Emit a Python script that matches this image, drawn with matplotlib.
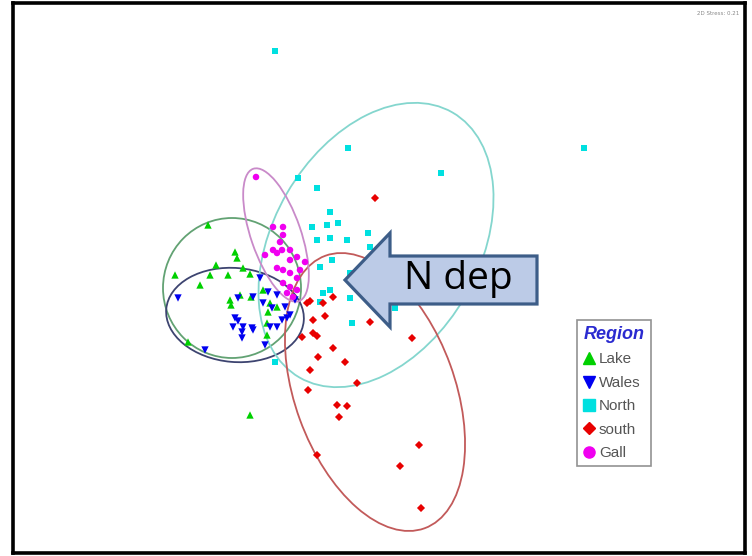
import matplotlib
matplotlib.use("Agg")
import matplotlib.pyplot as plt
from matplotlib.patches import Ellipse, Polygon
from matplotlib.lines import Line2D

# --- MDS scores (screen units, y grows downwards)
lake_x = [208, 175, 200, 210, 235, 237, 228, 243, 250, 230, 231, 240, 251, 270, 267, 263, 277, 268, 267, 188, 250, 216]
lake_y = [225, 275, 285, 275, 252, 258, 275, 268, 274, 300, 305, 295, 297, 303, 323, 290, 307, 312, 335, 342, 415, 265]

wales_x = [178, 205, 260, 268, 277, 238, 253, 263, 272, 235, 238, 233, 243, 253, 242, 270, 277, 282, 287, 290, 265, 285, 242, 252, 295]
wales_y = [298, 350, 278, 292, 295, 298, 297, 303, 308, 318, 321, 327, 327, 330, 338, 327, 327, 320, 318, 315, 345, 307, 332, 328, 300]

north_x = [275, 584, 441, 348, 298, 317, 330, 312, 327, 338, 330, 317, 347, 368, 370, 320, 332, 350, 323, 330, 320, 350, 352, 395, 275]
north_y = [51, 148, 173, 148, 178, 188, 212, 227, 225, 223, 238, 240, 240, 233, 247, 267, 260, 273, 293, 290, 302, 298, 323, 308, 362]

south_x = [375, 307, 310, 323, 333, 313, 325, 302, 313, 317, 333, 345, 370, 318, 310, 357, 308, 337, 347, 339, 412, 317, 419, 400, 421]
south_y = [198, 303, 301, 303, 297, 320, 316, 337, 333, 336, 348, 362, 322, 357, 370, 383, 390, 405, 406, 417, 338, 455, 445, 466, 508]

gall_x = [256, 273, 283, 283, 280, 265, 273, 277, 282, 290, 297, 305, 290, 277, 283, 290, 300, 297, 283, 290, 297, 287, 293]
gall_y = [177, 227, 227, 235, 242, 255, 250, 253, 250, 250, 257, 262, 260, 268, 270, 273, 270, 278, 283, 287, 290, 293, 297]

regions = ["Lake", "Wales", "North", "south", "Gall"]

# group ellipses: centre, width, height, angle
ell_cx = [232, 235, 376, 375, 276]
ell_cy = [288, 315, 245, 392, 235]
ell_w = [138, 138, 306, 290, 140]
ell_h = [140, 94, 206, 160, 50]
ell_ang = [0, 5, -60, 70, 71]

stress = 0.21

pt_colors = ["#00d000", "#0000f0", "#00e0e0", "#e80000", "#f000f0"]
ell_colors = ["#62a273", "#3d4470", "#84d6ce", "#c25a5a", "#c98ac9"]
markers = ["^", "v", "s", "D", "o"]
sizes = [28, 28, 19, 17, 22]

fig = plt.figure(figsize=(7.52, 5.56), dpi=100)
ax = fig.add_axes([13 / 752, 3 / 556, 732 / 752, 550 / 556])
ax.set_xlim(13, 745)
ax.set_ylim(553, 3)
ax.set_xticks([])
ax.set_yticks([])
for s in ax.spines.values():
    s.set_linewidth(2.6)
    s.set_color("black")

xs = [lake_x, wales_x, north_x, south_x, gall_x]
ys = [lake_y, wales_y, north_y, south_y, gall_y]

for i in range(5):
    ax.add_patch(Ellipse((ell_cx[i], ell_cy[i]), ell_w[i], ell_h[i], angle=ell_ang[i],
                         fill=False, edgecolor=ell_colors[i], lw=1.3, zorder=2))

for i in range(5):
    ax.scatter(xs[i], ys[i], s=sizes[i], marker=markers[i], c=pt_colors[i],
               edgecolors="none", zorder=3)

handles = [Line2D([], [], ls="none", marker=markers[i], color=pt_colors[i],
                  markersize=8 if markers[i] != "D" else 6.5) for i in range(5)]
leg = ax.legend(handles, regions, title="Region", loc="upper left",
                bbox_to_anchor=(0.771, 0.424), frameon=True, fancybox=False,
                edgecolor="#777777", labelspacing=0.62,
                handlelength=0.7, handletextpad=0.3, borderpad=0.4,
                borderaxespad=0, labelcolor="#555555",
                prop={"family": "Liberation Sans", "size": 11})
leg.get_frame().set_linewidth(1.2)
title = leg.get_title()
title.set_color("#2a2ad0")
title.set_fontfamily("Liberation Sans")
title.set_fontstyle("italic")
title.set_fontweight("bold")
title.set_fontsize(13)
leg._legend_box.align = "left"

ax.text(0.992, 0.985, "2D Stress: %.2f" % stress, transform=ax.transAxes,
        ha="right", va="top", fontsize=4, color="#888888")

# block arrow annotation
arrow = Polygon([(345, 280), (390, 233), (390, 256), (537, 256), (537, 304),
                 (390, 304), (390, 327)], closed=True, facecolor="#bccbe7",
                edgecolor="#3d5d88", lw=2.3, zorder=5)
ax.add_patch(arrow)
ax.text(458, 279, "N dep", ha="center", va="center", fontsize=28,
        family="Open Sans", color="black", zorder=6)

fig.savefig("out.png", dpi=100)
